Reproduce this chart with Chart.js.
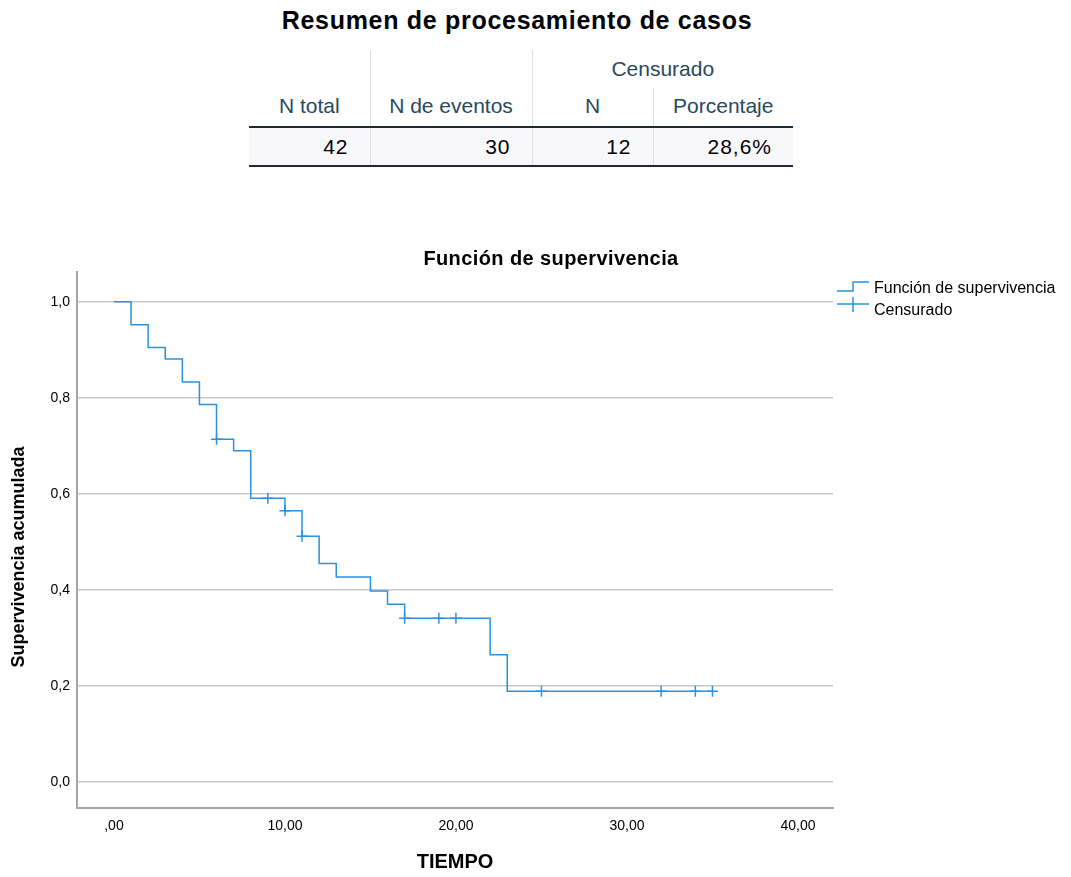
<!DOCTYPE html>
<html>
<head>
<meta charset="utf-8">
<script src="https://cdn.jsdelivr.net/npm/chart.js@4.4.0/dist/chart.umd.min.js"></script>
<style>
  body { margin: 0; background: #fff; width: 1071px; height: 877px; overflow: hidden; position: relative;
         font-family: "Liberation Sans", Arial, sans-serif; }
  #tituloTabla { position: absolute; left: 0; width: 1034px; top: 6px; text-align: center;
                 font-weight: bold; font-size: 25px; letter-spacing: 0.7px; color: #010205; }
  #resumen { position: absolute; left: 249px; top: 50px; border-collapse: collapse; table-layout: fixed;
             font-size: 21px; }
  #resumen th { font-weight: normal; color: #264a60; text-align: center; padding: 0; height: 38px; }
  #resumen td { color: #010205; text-align: right; padding: 0 21px 0 0; height: 37px; letter-spacing: 1px;
                background: #f8f8fa; border-bottom: 2px solid #1c2a35; }
  #resumen tr.fila2 th { border-bottom: 2px solid #1c2a35; padding-bottom: 3px; height: 35px; }
  #resumen .sep { border-right: 1px solid #dcdfe2; }
  #grafico { position: absolute; left: 0; top: 230px; }
</style>
</head>
<body>
<div id="tituloTabla">Resumen de procesamiento de casos</div>
<table id="resumen">
  <colgroup><col style="width:121px"><col style="width:162px"><col style="width:121px"><col style="width:140px"></colgroup>
  <tr><th class="sep"></th><th class="sep"></th><th colspan="2">Censurado</th></tr>
  <tr class="fila2"><th class="sep">N total</th><th class="sep">N de eventos</th><th class="sep">N</th><th>Porcentaje</th></tr>
  <tr><td class="sep">42</td><td class="sep">30</td><td class="sep">12</td><td>28,6%</td></tr>
</table>
<canvas id="grafico" width="1071" height="647"></canvas>
<script>
// --- Datos ---
const tiemposEvento = [0, 1, 2, 3, 4, 5, 6, 7, 8, 10, 11, 12, 13, 15, 16, 17, 22, 23, 35];
const supervivencia = [1.0, 0.952, 0.905, 0.881, 0.833, 0.786, 0.714, 0.690, 0.591, 0.565, 0.512, 0.455, 0.427, 0.398, 0.370, 0.341, 0.265, 0.189, 0.189];
const tiemposCensura = [6, 9, 10, 11, 17, 19, 20, 25, 32, 34, 35];
const supervCensura = [0.714, 0.591, 0.565, 0.512, 0.341, 0.341, 0.341, 0.189, 0.189, 0.189, 0.189];

const xTicks = [0, 10, 20, 30, 40];
const xTickLabels = [',00', '10,00', '20,00', '30,00', '40,00'];
const yTicks = [0, 0.2, 0.4, 0.6, 0.8, 1.0];
const yTickLabels = ['0,0', '0,2', '0,4', '0,6', '0,8', '1,0'];

const azul = '#2a92e0';
const fuente = '"Liberation Sans", Arial, sans-serif';
Chart.defaults.font.family = fuente;

// --- Título, título del eje Y y leyenda ---
const decoracion = {
    id: 'decoracion',
    afterDraw(chart) {
        const ctx = chart.ctx;
        ctx.save();
        ctx.fillStyle = '#000';
        ctx.textBaseline = 'middle';

        ctx.font = 'bold 20px ' + fuente;
        ctx.letterSpacing = '0.4px';
        ctx.textAlign = 'center';
        ctx.fillText('Función de supervivencia', 551, 29);
        ctx.letterSpacing = '0px';

        ctx.save();
        ctx.translate(19, 327);
        ctx.rotate(-Math.PI / 2);
        ctx.font = 'bold 18px ' + fuente;
        ctx.fillText('Supervivencia acumulada', 0, 0);
        ctx.restore();

        // leyenda
        ctx.strokeStyle = azul;
        ctx.lineWidth = 1.5;
        ctx.beginPath();
        ctx.moveTo(837, 61); ctx.lineTo(853, 61); ctx.lineTo(853, 52); ctx.lineTo(869, 52);
        ctx.stroke();
        ctx.beginPath();
        ctx.moveTo(837, 74); ctx.lineTo(869, 74);
        ctx.moveTo(853, 67); ctx.lineTo(853, 82);
        ctx.stroke();

        ctx.font = '16px ' + fuente;
        ctx.textAlign = 'left';
        ctx.fillText('Función de supervivencia', 874, 59);
        ctx.fillText('Censurado', 874, 81);
        ctx.restore();
    }
};

const ctx = document.getElementById('grafico').getContext('2d');
const grafico = new Chart(ctx, {
    type: 'line',
    data: {
        datasets: [{
            label: 'Función de supervivencia',
            data: tiemposEvento.map((t, i) => ({ x: t, y: supervivencia[i] })),
            borderColor: azul,
            backgroundColor: 'transparent',
            borderWidth: 1.5,
            stepped: true,
            pointRadius: 0,
            fill: false
        }, {
            label: 'Censurado',
            data: tiemposCensura.map((t, i) => ({ x: t, y: supervCensura[i] })),
            showLine: false,
            pointStyle: 'cross',
            pointRadius: 5.5,
            borderColor: azul,
            borderWidth: 1.5
        }]
    },
    options: {
        responsive: false,
        animation: false,
        layout: { padding: { top: 42, right: 238, left: 0, bottom: 0 } },
        plugins: { legend: { display: false }, title: { display: false }, tooltip: { enabled: false } },
        scales: {
            x: {
                type: 'linear',
                min: -2.16,
                max: 42.05,
                afterBuildTicks: s => { s.ticks = xTicks.map(v => ({ value: v })); },
                afterFit: s => { s.height = 69; },
                ticks: {
                    callback: v => xTickLabels[xTicks.indexOf(v)],
                    color: '#000', font: { size: 14 }, padding: 10, maxRotation: 0, autoSkip: false
                },
                grid: { display: false, drawTicks: false },
                border: { color: '#a6a6a6', width: 2 },
                title: { display: true, text: 'TIEMPO', color: '#000',
                         font: { size: 20, weight: 'bold' }, padding: { top: 0, bottom: 3 } }
            },
            y: {
                type: 'linear',
                min: -0.054,
                max: 1.062,
                afterBuildTicks: s => { s.ticks = yTicks.map(v => ({ value: v })); },
                afterFit: s => { s.width = 77; },
                ticks: {
                    callback: v => yTickLabels[yTicks.indexOf(v)],
                    color: '#000', font: { size: 14 }, padding: 7
                },
                grid: { color: '#c8c8c8', lineWidth: 1.5, drawTicks: false },
                border: { color: '#a6a6a6', width: 2 }
            }
        }
    },
    plugins: [decoracion]
});
</script>
</body>
</html>
